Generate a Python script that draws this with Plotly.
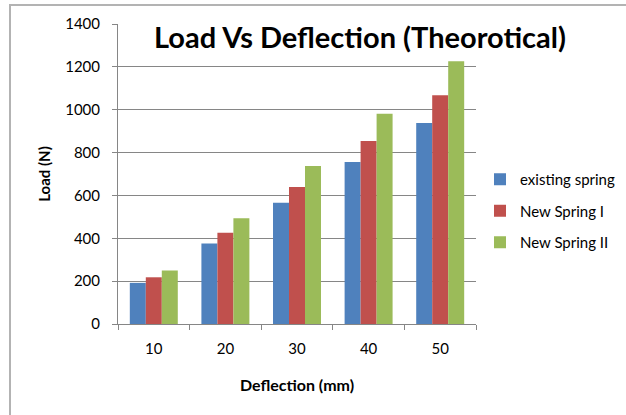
import plotly.graph_objects as go

categories = ["10", "20", "30", "40", "50"]
existing_spring = [192, 376, 566, 756, 938]
new_spring_1 = [218, 426, 639, 854, 1067]
new_spring_2 = [250, 493, 737, 981, 1226]
y_ticks = [0, 200, 400, 600, 800, 1000, 1200, 1400]

FONT = "Lato"
colors = ["#4F81BD", "#C0504D", "#9BBB59"]
names = ["existing spring", "New Spring I", "New Spring II"]
series = [existing_spring, new_spring_1, new_spring_2]

fig = go.Figure()
for i, (nm, vals, c) in enumerate(zip(names, series, colors)):
    fig.add_trace(go.Bar(x=categories, y=vals, name=nm, marker_color=c,
                         marker_line_width=0, legendgroup=f"g{i}"))

W, H = 626, 415
L, T = 118, 24
pw, ph = 358, 300
R, B = W - L - pw, H - T - ph

def px(X):  # page x -> paper x
    return (X - L) / pw

def py(Y):  # page y -> paper y
    return (T + ph - Y) / ph

fig.update_layout(
    width=W, height=H,
    margin=dict(l=L, r=R, t=T, b=B, autoexpand=False),
    paper_bgcolor="white", plot_bgcolor="white",
    barmode="group", bargap=0.33, bargroupgap=0,
    font=dict(family=FONT, size=15, color="#000000"),
    title=dict(text="<b>Load Vs Deflection (Theorotical)</b>",
               font=dict(family=FONT, size=29, color="#000000"),
               x=360 / W, xanchor="center", y=1 - 38 / H, yanchor="middle"),
    showlegend=True,
    legend=dict(x=px(480), xanchor="left", y=py(163), yanchor="top",
                font=dict(family=FONT, size=15), tracegroupgap=9,
                bgcolor="rgba(0,0,0,0)"),
    xaxis=dict(type="category", showline=True, linecolor="#868686", linewidth=1,
               ticks="outside", tickson="boundaries", ticklen=5, tickcolor="#868686",
               showgrid=False, ticklabelstandoff=11, automargin=False,
               title=dict(text="<b>Deflection (mm)</b>", font=dict(family=FONT, size=16),
                          standoff=23),
               tickfont=dict(family=FONT, size=15)),
    yaxis=dict(range=[0, 1400], tickvals=y_ticks, showline=True, linecolor="#868686",
               linewidth=1, ticks="outside", ticklen=5, tickcolor="#868686",
               showgrid=True, gridcolor="#868686", gridwidth=1, zeroline=False,
               ticklabelstandoff=9, automargin=False,
               title=dict(text="<b>Load (N)</b>", font=dict(family=FONT, size=15),
                          standoff=10),
               tickfont=dict(family=FONT, size=15)),
)

# outer chart border (extends beyond the visible window on right and bottom)
fig.add_shape(type="rect", xref="paper", yref="paper",
              x0=px(10), x1=px(700), y0=py(440), y1=py(5),
              line=dict(color="#B3B3B3", width=2), fillcolor="rgba(0,0,0,0)", layer="below")

fig.write_html("out.html", config={"displayModeBar": False},
               post_script="document.body.style.margin='0px';")
